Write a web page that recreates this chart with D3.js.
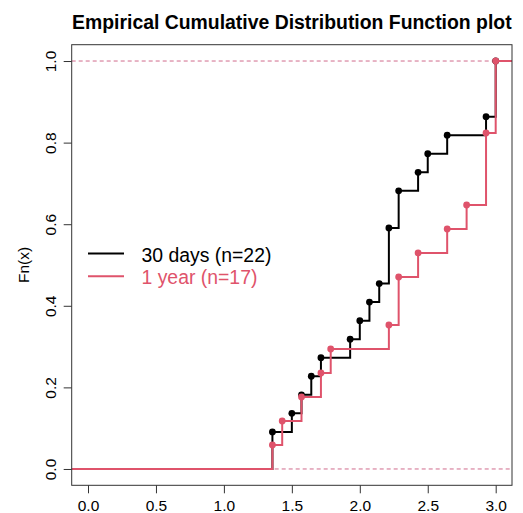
<!DOCTYPE html>
<html>
<head>
<meta charset="utf-8">
<script src="https://cdn.jsdelivr.net/npm/d3@7"></script>
<style>
  body { margin: 0; background: #fff; }
  svg { display: block; font-family: "Liberation Sans", Arial, sans-serif; }
</style>
</head>
<body>
<svg id="chart" width="523" height="513"></svg>
<script>
// knots of each ECDF and the cumulative counts at them
const daysX = [1.357, 1.500, 1.571, 1.643, 1.714, 1.929, 2.000, 2.071, 2.143, 2.214, 2.286, 2.429, 2.500, 2.643, 2.929, 3.000];
const daysCum = [2, 3, 4, 5, 6, 7, 8, 9, 10, 13, 15, 16, 17, 18, 19, 22];
const daysN = 22;

const yearX = [1.357, 1.429, 1.571, 1.714, 1.786, 2.214, 2.286, 2.429, 2.643, 2.786, 2.929, 3.000];
const yearCum = [1, 2, 3, 4, 5, 6, 8, 9, 10, 11, 14, 17];
const yearN = 17;

const xTicks = [0, 0.5, 1, 1.5, 2, 2.5, 3];
const yTicks = [0, 0.2, 0.4, 0.6, 0.8, 1];

const seriesLabels = ["30 days (n=22)", "1 year (n=17)"];
const colors = ["#000000", "#DF536B"];

const box = { left: 71.7, right: 512, top: 44.7, bottom: 485.3 };
const svg = d3.select("#chart");

const x = d3.scaleLinear().domain([-0.12, 3.12]).range([box.left, box.right]);
const y = d3.scaleLinear().domain([-0.04, 1.04]).range([box.bottom, box.top]);

svg.append("defs").append("clipPath").attr("id", "clip")
  .append("rect")
  .attr("x", box.left).attr("y", box.top)
  .attr("width", box.right - box.left).attr("height", box.bottom - box.top);

// title
svg.append("text")
  .attr("x", (box.left + box.right) / 2)
  .attr("y", 28.5)
  .attr("text-anchor", "middle")
  .attr("font-weight", "bold")
  .attr("font-size", 19.4)
  .text("Empirical Cumulative Distribution Function plot");

// axes
const xAxis = svg.append("g")
  .attr("transform", `translate(0,${box.bottom})`)
  .call(d3.axisBottom(x).tickValues(xTicks).tickFormat(d3.format(".1f")).tickSize(8).tickPadding(7));
xAxis.select(".domain").remove();

const yAxis = svg.append("g")
  .attr("transform", `translate(${box.left},0)`)
  .call(d3.axisLeft(y).tickValues(yTicks).tickFormat(d3.format(".1f")).tickSize(8));
yAxis.select(".domain").remove();
yAxis.selectAll(".tick text")
  .attr("x", 0).attr("dy", null)
  .attr("text-anchor", "middle")
  .attr("transform", "translate(-19.5,0) rotate(-90)")
  .attr("dominant-baseline", "middle");

svg.selectAll(".tick text").attr("font-size", 15.5).attr("fill", "#000").attr("font-family", null);
svg.selectAll(".tick line").attr("stroke", "#333");

svg.append("text")
  .attr("transform", `translate(25,${(box.top + box.bottom) / 2}) rotate(-90)`)
  .attr("text-anchor", "middle")
  .attr("dominant-baseline", "middle")
  .attr("font-size", 15.5)
  .text("Fn(x)");

// dashed lines at 0 and 1
const plot = svg.append("g").attr("clip-path", "url(#clip)");
plot.selectAll("line.ref").data([0, 1]).join("line")
  .attr("class", "ref")
  .attr("x1", box.left).attr("x2", box.right)
  .attr("y1", d => y(d)).attr("y2", d => y(d))
  .attr("stroke", "#D06A8C")
  .attr("stroke-width", 1)
  .attr("stroke-dasharray", "4,3");

const line = d3.line().x(d => x(d[0])).y(d => y(d[1])).curve(d3.curveStepAfter);

function drawEcdf(xs, cum, n, color) {
  const pts = xs.map((v, i) => [v, cum[i] / n]);
  const path = [[x.domain()[0], 0], ...pts, [x.domain()[1], 1]];
  plot.append("path")
    .attr("d", line(path))
    .attr("fill", "none")
    .attr("stroke", color)
    .attr("stroke-width", 2);
  plot.append("g").selectAll("circle").data(pts).join("circle")
    .attr("cx", d => x(d[0]))
    .attr("cy", d => y(d[1]))
    .attr("r", 3.4)
    .attr("fill", color);
}

drawEcdf(daysX, daysCum, daysN, colors[0]);
drawEcdf(yearX, yearCum, yearN, colors[1]);

// box
svg.append("rect")
  .attr("x", box.left).attr("y", box.top)
  .attr("width", box.right - box.left).attr("height", box.bottom - box.top)
  .attr("fill", "none").attr("stroke", "#333").attr("stroke-width", 1);

// legend
const legend = svg.append("g");
seriesLabels.forEach((label, i) => {
  const ly = 253.5 + i * 22.7;
  legend.append("line")
    .attr("x1", 88).attr("x2", 124)
    .attr("y1", ly).attr("y2", ly)
    .attr("stroke", colors[i]).attr("stroke-width", 2);
  legend.append("text")
    .attr("x", 141.5).attr("y", ly + 3)
    .attr("dominant-baseline", "middle")
    .attr("font-size", 19.4)
    .attr("fill", colors[i])
    .text(label);
});
</script>
</body>
</html>
